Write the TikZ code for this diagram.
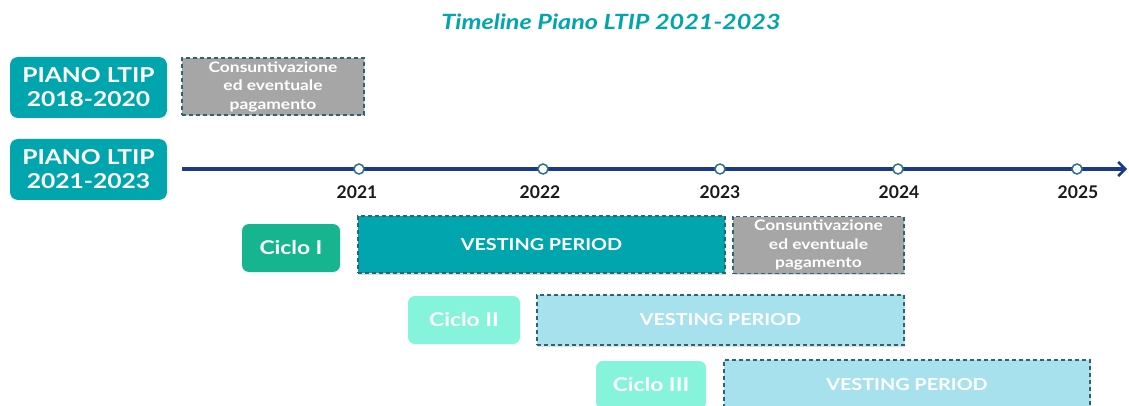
\documentclass[tikz,border=0pt]{standalone}
\usepackage{fontspec}
\setmainfont{Lato}[FakeStretch=1.2]
\newfontfamily\yearfont{Lato}
\usetikzlibrary{arrows.meta,shadows}
\definecolor{tealmain}{HTML}{00A5AD}
\definecolor{cicloone}{HTML}{16B48F}
\definecolor{mint}{HTML}{86F3DB}
\definecolor{lightblue}{HTML}{A8E1EE}
\definecolor{grayfill}{HTML}{A6A6A6}
\definecolor{dashborder}{HTML}{2B6475}
\definecolor{navy}{HTML}{1C3A8C}
\definecolor{ticktext}{HTML}{1A1A1A}
\definecolor{circborder}{HTML}{2E7385}
\tikzset{
  planbox/.style={rounded corners=8pt, fill=tealmain, text=white, font=\fontsize{20.5}{24}\selectfont\bfseries, align=center, inner sep=0pt},
  ciclobox/.style={rounded corners=7pt, text=white, font=\fontsize{19}{20}\selectfont\bfseries, inner sep=0pt},
  dashbox/.style={draw=dashborder, dashed, line width=1.2pt, dash pattern=on 4pt off 3pt, inner sep=0pt,
    drop shadow={opacity=0.25, shadow xshift=1pt, shadow yshift=-1.5pt}},
  vestbox/.style={dashbox, text=white, font=\fontsize{16.5}{18}\selectfont\bfseries},
  graybox/.style={dashbox, fill=grayfill, text=white, font=\fontsize{14.5}{18.5}\selectfont\bfseries, align=center},
  tickc/.style={circle, draw=circborder, fill=white, line width=1.5pt, minimum size=10pt, inner sep=0pt},
  yearlbl/.style={text=ticktext, font=\yearfont\fontsize{17.5}{19}\selectfont\bfseries},
}
\begin{document}
\begin{tikzpicture}[x=1pt, y=-1pt]
\useasboundingbox (0,0) rectangle (1129,406);
% title
\node[text=tealmain, font=\fontsize{21}{24}\selectfont\bfseries\itshape] (title) at (611,22) {Timeline Piano LTIP 2021-2023};
% plan boxes
\node[planbox, minimum width=157pt, minimum height=61pt] (p1) at (88.5,87.5) {PIANO LTIP\\2018-2020};
\node[planbox, minimum width=157pt, minimum height=61pt] (p2) at (88.5,169.5) {PIANO LTIP\\2021-2023};
\node[graybox, minimum width=182pt, minimum height=57pt] (g1) at (273,86.5) {Consuntivazione\\ed eventuale\\pagamento};
% axis
\coordinate (axstart) at (182,169);
\coordinate (axend) at (1127,169);
\draw[navy, line width=3.5pt, -{Straight Barb[length=7pt, width=14pt, line width=2.5pt]}] (axstart) -- (axend);
\node[tickc] (t1) at (359,169) {};
\node[tickc] (t2) at (543,169) {};
\node[tickc] (t3) at (720,169) {};
\node[tickc] (t4) at (898,169) {};
\node[tickc] (t5) at (1077,169) {};
\node[yearlbl] (y1) at (357,192) {2021};
\node[yearlbl] (y2) at (540,192) {2022};
\node[yearlbl] (y3) at (720,192) {2023};
\node[yearlbl] (y4) at (899,192) {2024};
\node[yearlbl] (y5) at (1078,192) {2025};
% cycle I
\node[ciclobox, fill=cicloone, minimum width=98pt, minimum height=48pt] (c1) at (291,248) {Ciclo I};
\node[vestbox, fill=tealmain, minimum width=367pt, minimum height=57pt] (v1) at (541.5,244.5) {VESTING PERIOD};
\node[graybox, minimum width=171pt, minimum height=57pt] (g2) at (818.5,245) {Consuntivazione\\ed eventuale\\pagamento};
% cycle II
\node[ciclobox, fill=mint, minimum width=112pt, minimum height=48pt] (c2) at (464,320) {Ciclo II};
\node[vestbox, fill=lightblue, minimum width=367pt, minimum height=50pt] (v2) at (720.5,320) {VESTING PERIOD};
% cycle III
\node[ciclobox, fill=mint, minimum width=110pt, minimum height=48pt] (c3) at (651,385) {Ciclo III};
\node[vestbox, fill=lightblue, minimum width=366pt, minimum height=50pt] (v3) at (907,385) {VESTING PERIOD};
\end{tikzpicture}
\end{document}
